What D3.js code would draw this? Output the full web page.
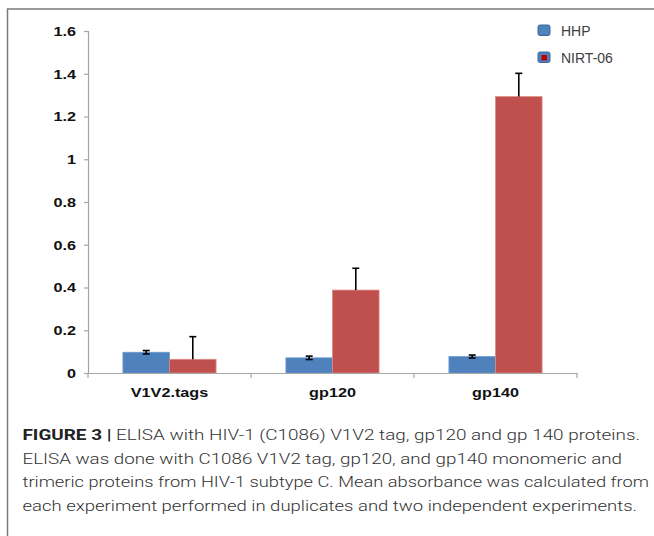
<!DOCTYPE html>
<html>
<head>
<meta charset="utf-8">
<script src="https://cdn.jsdelivr.net/npm/d3@7"></script>
<style>
	body { margin: 0; background: #fff; }
	svg { display: block; }
</style>
</head>
<body>
<div id="chart"></div>
<script>

// chart values
let categories = ["V1V2.tags", "gp120", "gp140"];
let seriesNames = ["HHP", "NIRT-06"];
let hhpValues = [0.097, 0.071, 0.077];
let hhpErrors = [0.008, 0.008, 0.007];
let nirtValues = [0.064, 0.388, 1.293];
let nirtErrors = [0.106, 0.102, 0.109];
let yTicks = [0, 0.2, 0.4, 0.6, 0.8, 1, 1.2, 1.4, 1.6];

let captionLines = [
	"ELISA with HIV-1 (C1086) V1V2 tag, gp120 and gp 140 proteins.",
	"ELISA was done with C1086 V1V2 tag, gp120, and gp140 monomeric and",
	"trimeric proteins from HIV-1 subtype C. Mean absorbance was calculated from",
	"each experiment performed in duplicates and two independent experiments."
];

let width = 654,
	height = 536;

let colors = { "HHP": "#4f81bd", "NIRT-06": "#c0504d" };
let edges = { "HHP": "#6d9bd1", "NIRT-06": "#e08a87" };

let svg = d3
	.select("#chart")
	.append("svg")
	.attr("width", width)
	.attr("height", height);

svg.append("rect")
	.attr("width", width)
	.attr("height", height)
	.attr("fill", "#fff");

// outer figure frame (right and bottom sides run off the page)
svg.append("rect")
	.attr("x", 7.5)
	.attr("y", 9)
	.attr("width", 700)
	.attr("height", 600)
	.attr("fill", "none")
	.attr("stroke", "#7a7a7a")
	.attr("stroke-width", 1.5);

// scales
let x = d3.scaleBand()
	.domain(categories)
	.range([88, 577])
	.paddingInner(0)
	.paddingOuter(0);

let xSub = d3.scaleBand()
	.domain(seriesNames)
	.range([0, x.bandwidth()])
	.paddingInner(0)
	.paddingOuter(0.75);

let y = d3.scaleLinear()
	.domain([0, 1.6])
	.range([373, 31]);

// rows for bars
let rows = [];
categories.forEach(function (c, i) {
	rows.push({ cat: c, series: "HHP", value: hhpValues[i], err: hhpErrors[i] });
	rows.push({ cat: c, series: "NIRT-06", value: nirtValues[i], err: nirtErrors[i] });
});

let axisColor = "#a6a6a6";
let stretch = "scale(1.2,1)";

// y axis
let yAxis = svg.append("g")
	.attr("transform", "translate(88,0)")
	.call(d3.axisLeft(y).tickValues(yTicks).tickFormat(d3.format("~g")).tickSizeOuter(0).tickSize(4));

yAxis.select(".domain").attr("stroke", axisColor).attr("stroke-width", 1.2);
yAxis.selectAll(".tick line").attr("stroke", axisColor).attr("stroke-width", 1.2);
yAxis.selectAll(".tick text")
	.attr("x", -10)
	.attr("transform", stretch)
	.style("font-family", "'Liberation Sans', Arial, sans-serif")
	.style("font-size", "13.5px")
	.style("font-weight", "bold")
	.attr("fill", "#111");

// bars
svg.append("g")
	.selectAll("rect")
	.data(rows)
	.enter().append("rect")
	.attr("x", function (d) { return x(d.cat) + xSub(d.series); })
	.attr("y", function (d) { return y(d.value); })
	.attr("width", xSub.bandwidth())
	.attr("height", function (d) { return y(0) - y(d.value); })
	.attr("fill", function (d) { return colors[d.series]; })
	.attr("stroke", function (d) { return edges[d.series]; })
	.attr("stroke-width", 0.8);

// error bars: HHP both ways, NIRT-06 only the upper half shows
let errG = svg.append("g")
	.attr("stroke", "#000")
	.attr("stroke-width", 1.6);

rows.forEach(function (d) {
	let cx = x(d.cat) + xSub(d.series) + xSub.bandwidth() / 2;
	let top = y(d.value + d.err);
	let bottom = d.series == "HHP" ? y(d.value - d.err) : y(d.value);
	errG.append("line")
		.attr("x1", cx).attr("x2", cx)
		.attr("y1", top).attr("y2", bottom);
	errG.append("line")
		.attr("x1", cx - 3.5).attr("x2", cx + 3.5)
		.attr("y1", top).attr("y2", top);
	if (d.series == "HHP") {
		errG.append("line")
			.attr("x1", cx - 3.5).attr("x2", cx + 3.5)
			.attr("y1", bottom).attr("y2", bottom);
	}
});

// x axis with ticks between categories
let xAxis = svg.append("g")
	.attr("transform", "translate(0," + y(0) + ")")
	.call(d3.axisBottom(x).tickSize(0).tickSizeOuter(0));

xAxis.select(".domain").attr("stroke", axisColor).attr("stroke-width", 1.2);
xAxis.selectAll(".tick text")
	.attr("y", 24)
	.attr("dy", 0)
	.attr("transform", stretch)
	.style("font-family", "'Liberation Sans', Arial, sans-serif")
	.style("font-size", "13.5px")
	.style("font-weight", "bold")
	.attr("fill", "#111");

let bounds = [x.range()[0]].concat(categories.map(function (c) { return x(c) + x.bandwidth(); }));
xAxis.selectAll(".bound")
	.data(bounds)
	.enter().append("line")
	.attr("class", "bound")
	.attr("x1", function (d) { return d; })
	.attr("x2", function (d) { return d; })
	.attr("y1", 0)
	.attr("y2", 5)
	.attr("stroke", axisColor)
	.attr("stroke-width", 1.2);

// legend
let legend = svg.append("g")
	.selectAll("g")
	.data(seriesNames)
	.enter().append("g")
	.attr("transform", function (d, i) { return "translate(538," + (25 + i * 27) + ")"; });

legend.append("rect")
	.attr("width", 12)
	.attr("height", 10.5)
	.attr("rx", 2)
	.attr("fill", "#4f81bd")
	.attr("stroke", "#3a679c")
	.attr("stroke-width", 1);

legend.filter(function (d) { return d == "NIRT-06"; })
	.append("rect")
	.attr("x", 3.5)
	.attr("y", 3)
	.attr("width", 5.5)
	.attr("height", 5.5)
	.attr("fill", "#c00000");

legend.append("text")
	.attr("x", 23)
	.attr("y", 10.5)
	.text(function (d) { return d; })
	.style("font-family", "'Liberation Sans', Arial, sans-serif")
	.style("font-size", "14px")
	.attr("fill", "#404040");

// caption below the chart
let captionEnds = [640, 622, 649, 637];
let caption = svg.append("g")
	.style("font-family", "Roboto, 'Liberation Sans', sans-serif")
	.style("font-size", "14.5px")
	.style("font-weight", 300)
	.attr("fill", "#333");

captionLines.forEach(function (line, i) {
	let t = caption.append("text")
		.attr("x", 22.5)
		.attr("y", 440 + i * 23.5)
		.attr("textLength", captionEnds[i] - 22.5)
		.attr("lengthAdjust", "spacingAndGlyphs");
	if (i == 0) {
		t.append("tspan")
			.style("font-weight", "bold")
			.attr("fill", "#222")
			.text("FIGURE 3 | ");
	}
	t.append("tspan").text(line);
});

</script>
</body>
</html>
